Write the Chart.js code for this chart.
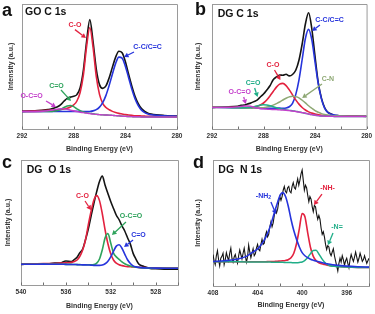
<!DOCTYPE html>
<html><head><meta charset="utf-8">
<script src="https://cdn.jsdelivr.net/npm/chart.js@4.4.1/dist/chart.umd.min.js"></script>
<style>
html,body{margin:0;padding:0;background:#fff;width:375px;height:314px;overflow:hidden}
.p{position:absolute}
</style></head><body>
<div class="p" style="left:0;top:0"><canvas id="ca" width="187" height="157"></canvas></div>
<div class="p" style="left:187px;top:0"><canvas id="cb" width="188" height="157"></canvas></div>
<div class="p" style="left:0;top:156px"><canvas id="cc" width="187" height="157"></canvas></div>
<div class="p" style="left:187px;top:156px"><canvas id="cd" width="188" height="158"></canvas></div>
<script>
// ---------- DATA (binding energy in eV, intensity as fraction of frame height) ----------
const eC1s = [292,291,290,289.75,289.5,289.25,289,288.75,288.5,288.25,288,287.75,287.5,287.25,287,286.75,286.5,286.25,286,285.75,285.5,285.25,285,284.75,284.5,284.25,284,283.75,283.5,283.25,283,282.75,282.5,282.25,282,281,280];
// panel a: GO C 1s
const goRaw   = [.141,.146,.156,.16,.168,.178,.195,.222,.245,.255,.262,.275,.33,.47,.70,.875,.70,.48,.355,.325,.345,.41,.495,.575,.622,.61,.54,.44,.345,.262,.203,.163,.14,.127,.12,.108,.103];
const goCO    = [.142,.145,.149,.150,.151,.153,.156,.160,.166,.176,.193,.224,.292,.431,.659,.812,.655,.421,.277,.205,.172,.154,.141,.132,.125,.120,.115,.112,.109,.106,.106,.104,.103,.102,.102,.100,.099];
const goCC    = [.140,.140,.141,.141,.141,.141,.141,.140,.140,.141,.141,.141,.140,.140,.139,.140,.145,.155,.175,.211,.269,.349,.440,.525,.575,.567,.503,.412,.319,.242,.187,.151,.131,.120,.114,.105,.102];
const goCdO   = [.138,.139,.140,.140,.143,.147,.157,.172,.184,.188,.179,.161,.147,.136,.129,.125,.122,.118,.115,.113,.112,.111,.109,.107,.105,.103,.101,.100,.099,.098,.098,.097,.097,.097,.097,.097,.097];
const goOCO   = [.139,.139,.146,.150,.155,.159,.162,.161,.157,.151,.146,.139,.134,.131,.127,.123,.12,.117,.115,.113,.112,.111,.109,.107,.105,.103,.101,.1,.099,.098,.098,.097,.097,.097,.097,.097,.097];
// panel b: DG C 1s
const dgcRaw  = [.172,.178,.181,.189,.191,.2,.207,.219,.231,.256,.28,.312,.346,.394,.416,.432,.43,.438,.425,.436,.47,.55,.68,.84,.93,.80,.58,.37,.245,.17,.133,.12,.108,.107,.103,.103,.101];
const dgcCC   = [.174,.173,.171,.170,.169,.168,.168,.166,.166,.165,.165,.165,.165,.166,.167,.167,.166,.168,.178,.205,.275,.391,.556,.724,.797,.713,.535,.362,.239,.165,.132,.118,.112,.108,.106,.103,.102];
const dgcCO   = [.175,.174,.173,.172,.172,.173,.174,.176,.181,.192,.208,.232,.264,.300,.335,.359,.365,.347,.313,.273,.233,.199,.172,.152,.137,.127,.119,.114,.110,.108,.106,.106,.104,.104,.104,.103,.102];
const dgcCN   = [.174,.173,.171,.170,.169,.169,.168,.167,.168,.169,.171,.176,.182,.191,.203,.216,.232,.246,.257,.263,.259,.249,.230,.209,.186,.166,.147,.134,.123,.116,.112,.109,.107,.106,.105,.103,.103];
const dgcCdO  = [.173,.172,.170,.169,.170,.171,.174,.178,.184,.190,.194,.192,.186,.178,.170,.162,.158,.153,.149,.146,.141,.137,.131,.126,.12,.115,.11,.107,.104,.103,.102,.102,.101,.101,.101,.101,.101];
const dgcOCO  = [.173,.172,.177,.181,.185,.185,.182,.174,.168,.164,.161,.159,.157,.156,.155,.153,.152,.150,.147,.144,.140,.136,.131,.126,.120,.115,.110,.107,.104,.103,.102,.102,.101,.101,.101,.101,.101];
// panel c: DG O 1s
const eO1s = [540,539,538,537,536.5,536,535.5,535.25,535,534.75,534.5,534.25,534,533.75,533.5,533.25,533,532.75,532.5,532.25,532,531.75,531.5,531.25,531,530.75,530.5,530.25,530,529.75,529.5,529,528.5,528,527,526];
const dgoRaw  = [.165,.17,.166,.175,.176,.192,.188,.203,.222,.258,.288,.362,.448,.552,.653,.747,.828,.872,.798,.732,.668,.612,.558,.522,.473,.432,.378,.327,.253,.207,.168,.147,.133,.131,.126,.127];
const dgoCO   = [.168,.169,.171,.172,.175,.177,.181,.188,.200,.23,.28,.36,.48,.59,.68,.715,.675,.57,.44,.33,.25,.20,.175,.162,.155,.15,.147,.146,.144,.143,.141,.139,.138,.137,.136,.135];
const dgoOCO  = [.166,.166,.167,.166,.166,.165,.165,.164,.163,.163,.162,.162,.162,.162,.164,.175,.208,.282,.377,.412,.336,.255,.225,.205,.185,.17,.16,.152,.146,.142,.14,.136,.135,.134,.134,.134];
const dgoCdO  = [.166,.166,.167,.166,.166,.165,.164,.164,.163,.162,.161,.161,.160,.159,.157,.157,.157,.160,.170,.190,.225,.270,.311,.322,.294,.247,.202,.172,.153,.145,.141,.137,.136,.135,.134,.134];
// panel d: DG N 1s
const eN1s = [408,407,406,405,404.5,404,403.75,403.5,403.25,403,402.75,402.5,402.25,402,401.75,401.5,401.25,401,400.75,400.5,400.25,400,399.75,399.5,399.25,399,398.75,398.5,398.25,398,397.75,397.5,397,396,395,394];
const dgnNH2  = [.195,.20,.21,.235,.265,.295,.32,.35,.39,.44,.505,.58,.65,.715,.741,.712,.635,.53,.44,.37,.31,.265,.24,.225,.213,.205,.198,.192,.186,.181,.176,.172,.166,.158,.153,.15];
const dgnNH   = [.193,.193,.192,.192,.192,.193,.193,.193,.193,.194,.194,.195,.196,.198,.200,.203,.209,.224,.260,.337,.456,.575,.55,.422,.306,.235,.201,.185,.176,.170,.165,.161,.157,.151,.148,.147];
const dgnN    = [.193,.193,.192,.191,.191,.191,.191,.190,.190,.190,.189,.189,.188,.188,.188,.187,.186,.186,.185,.185,.187,.191,.204,.226,.257,.282,.283,.254,.219,.190,.171,.161,.155,.150,.147,.146];
const eN1sRaw = [408,407.9,407.8,407.7,407.6,407.5,407.4,407.3,407.2,407.1,407,406.9,406.8,406.7,406.6,406.5,406.4,406.3,406.2,406.1,406,405.9,405.8,405.7,405.6,405.5,405.4,405.3,405.2,405.1,405,404.9,404.8,404.7,404.6,404.5,404.4,404.3,404.2,404.1,404,403.9,403.8,403.7,403.6,403.5,403.4,403.3,403.2,403.1,403,402.9,402.8,402.7,402.6,402.5,402.4,402.3,402.2,402.1,402,401.9,401.8,401.7,401.6,401.5,401.4,401.3,401.2,401.1,401,400.9,400.8,400.7,400.6,400.5,400.4,400.3,400.2,400.1,400,399.9,399.8,399.7,399.6,399.5,399.4,399.3,399.2,399.1,399,398.9,398.8,398.7,398.6,398.5,398.4,398.3,398.2,398.1,398,397.9,397.8,397.7,397.6,397.5,397.4,397.3,397.2,397.1,397,396.9,396.8,396.7,396.6,396.5,396.4,396.3,396.2,396.1,396,395.9,395.8,395.7,395.6,395.5,395.4,395.3,395.2,395.1,395,394.9,394.8,394.7,394.6,394.5,394.4,394.3,394.2,394.1,394];
const dgnRaw  = [.25,.20,.17,.24,.28,.21,.16,.22,.235,.26,.17,.21,.265,.23,.20,.26,.30,.22,.19,.23,.25,.21,.18,.24,.285,.25,.215,.26,.30,.24,.19,.23,.325,.27,.225,.26,.295,.24,.255,.30,.33,.29,.28,.33,.37,.33,.34,.40,.43,.39,.41,.47,.51,.47,.50,.56,.61,.58,.61,.67,.71,.68,.71,.76,.79,.75,.74,.78,.79,.75,.74,.79,.82,.78,.77,.81,.85,.80,.84,.89,.92,.84,.76,.80,.78,.72,.67,.71,.69,.63,.59,.64,.63,.57,.53,.56,.53,.46,.41,.43,.39,.33,.29,.32,.31,.26,.24,.27,.295,.24,.20,.16,.12,.18,.22,.19,.24,.21,.165,.20,.22,.18,.145,.21,.25,.22,.195,.23,.27,.23,.19,.22,.26,.23,.195,.21,.24,.21,.18,.2,.22];
// axis tick values are generated every 2 eV; labels every 4 eV
const xLabelStep = 4;

// ---------- STYLE ----------
const FF = '"Liberation Sans", Arial, Helvetica, sans-serif';
const C = {black:'#141414', red:'#e3223f', blue:'#2634dc', green:'#2ea35c', mag:'#c43fcb', teal:'#20ae88', olive:'#8ea874', frame:'#9a9a9a', text:'#333'};

function arrow(ctx, x1, y1, x2, y2, col){
  const a = Math.atan2(y2-y1, x2-x1), hl = 4.5, hw = 2.6;
  const bx = x2 - hl*Math.cos(a), by = y2 - hl*Math.sin(a);
  ctx.strokeStyle = col; ctx.fillStyle = col; ctx.lineWidth = 1.3;
  ctx.beginPath(); ctx.moveTo(x1,y1); ctx.lineTo(bx,by); ctx.stroke();
  ctx.beginPath(); ctx.moveTo(x2,y2);
  ctx.lineTo(bx + hw*Math.sin(a), by - hw*Math.cos(a));
  ctx.lineTo(bx - hw*Math.sin(a), by + hw*Math.cos(a));
  ctx.closePath(); ctx.fill();
}

const decoPlugin = {
  id: 'panelDeco',
  afterDraw(chart, args, o){
    const {ctx, chartArea: ca, scales: {x, y}} = chart;
    ctx.save();
    ctx.strokeStyle = C.frame; ctx.lineWidth = 1;
    ctx.beginPath(); ctx.moveTo(ca.left, ca.top + 0.5); ctx.lineTo(ca.right + 0.5, ca.top + 0.5); ctx.lineTo(ca.right + 0.5, ca.bottom); ctx.stroke();
    ctx.strokeStyle = '#6f6f6f';
    x.ticks.forEach(t => { const px = Math.round(x.getPixelForValue(t.value)) + 0.5; ctx.beginPath(); ctx.moveTo(px, ca.bottom); ctx.lineTo(px, ca.bottom - 2.5); ctx.stroke(); });
    ctx.fillStyle = '#111'; ctx.textAlign = 'left'; ctx.textBaseline = 'alphabetic';
    ctx.font = 'bold 18px ' + FF; ctx.fillText(o.letter, ca.left + o.ldx, ca.top + o.ldy);
    ctx.font = 'bold 10.5px ' + FF; ctx.fillText(o.title, ca.left + o.tdx, ca.top + o.tdy);
    o.notes.forEach(n => {
      const tx = x.getPixelForValue(n.at[0]), ty = y.getPixelForValue(n.at[1]);
      ctx.fillStyle = n.color; ctx.textBaseline = 'middle';
      ctx.font = 'bold 7px ' + FF;
      if (n.sub) {
        const w1 = ctx.measureText(n.text).width; ctx.font = 'bold 5px ' + FF; const w2 = ctx.measureText(n.sub).width;
        const sx = tx - (w1 + w2)/2; ctx.textAlign = 'left';
        ctx.font = 'bold 7px ' + FF; ctx.fillText(n.text, sx, ty);
        ctx.font = 'bold 5px ' + FF; ctx.fillText(n.sub, sx + w1, ty + 2);
      } else { ctx.textAlign = 'center'; ctx.fillText(n.text, tx, ty); }
      arrow(ctx, x.getPixelForValue(n.from[0]), y.getPixelForValue(n.from[1]), x.getPixelForValue(n.to[0]), y.getPixelForValue(n.to[1]), n.color);
    });
    ctx.restore();
  }
};

function line(e, v, color, w, tens){
  return {data: e.map((xv, i) => ({x: xv, y: v[i]})), borderColor: color, borderWidth: w, pointRadius: 0, fill: false, tension: tens, cubicInterpolationMode: tens ? 'monotone' : 'default'};
}

function panel(id, o){
  return new Chart(document.getElementById(id), {
    type: 'line',
    data: {datasets: o.datasets},
    options: {
      responsive: false, animation: false, devicePixelRatio: 1,
      layout: {padding: {left: 0, top: 4, right: o.padRight, bottom: 0}},
      plugins: {legend: {display: false}, tooltip: {enabled: false}, panelDeco: o.deco},
      scales: {
        x: {type: 'linear', reverse: true, min: o.xmin, max: o.xmax,
            ticks: {stepSize: 2, autoSkip: false, maxRotation: 0, padding: 3, color: C.text,
                    font: {family: FF, size: 6.5, weight: 'bold'},
                    callback: v => (v % xLabelStep === 0 ? String(v) : '')},
            grid: {display: false, drawTicks: false}, border: {display: true, color: C.frame},
            title: {display: true, text: 'Binding Energy (eV)', color: C.text, font: {family: FF, size: 7, weight: 'bold'}, padding: {top: 0, bottom: o.xtPad}},
            afterFit: s => { s.height = 28; }},
        y: {min: 0, max: 1, ticks: {display: false}, grid: {display: false, drawTicks: false}, border: {display: true, color: C.frame},
            title: {display: true, text: 'Intensity (a.u.)', color: C.text, font: {family: FF, size: 7, weight: 'bold'}, padding: {top: o.ytPad, bottom: 0}},
            afterFit: s => { s.width = o.yw; }}
      }
    },
    plugins: [decoPlugin]
  });
}

panel('ca', {xmin: 280, xmax: 292, yw: 22, padRight: 10, xtPad: 4, ytPad: 7,
  datasets: [line(eC1s, goOCO, C.mag, 1.5, 0.4), line(eC1s, goCdO, C.green, 1.5, 0.4), line(eC1s, goCC, C.blue, 1.6, 0.4), line(eC1s, goCO, C.red, 1.6, 0.4), line(eC1s, goRaw, C.black, 1.6, 0.4)],
  deco: {letter: 'a', ldx: -20, ldy: 12, title: 'GO C 1s', tdx: 3, tdy: 11,
    notes: [
      {text: 'C-O', color: C.red, at: [287.9, .832], from: [287.9, .795], to: [287.05, .728]},
      {text: 'C-C/C=C', color: C.blue, at: [282.28, .656], from: [283.33, .616], to: [284.1, .576]},
      {text: 'C=O', color: C.green, at: [289.33, .344], from: [288.98, .312], to: [288.21, .224]},
      {text: 'O-C=O', color: C.mag, at: [291.26, .264], from: [290.14, .224], to: [289.37, .176]}
    ]}});

panel('cb', {xmin: 280, xmax: 292, yw: 25, padRight: 7, xtPad: 3.5, ytPad: 7,
  datasets: [line(eC1s, dgcOCO, C.mag, 1.5, 0.4), line(eC1s, dgcCdO, C.teal, 1.5, 0.4), line(eC1s, dgcCN, C.olive, 1.5, 0.4), line(eC1s, dgcCO, C.red, 1.6, 0.4), line(eC1s, dgcCC, C.blue, 1.6, 0.4), line(eC1s, dgcRaw, C.black, 1.6, 0.3)],
  deco: {letter: 'b', ldx: -17, ldy: 11, title: 'DG C 1s', tdx: 5.7, tdy: 12.7,
    notes: [
      {text: 'C-C/C=C', color: C.blue, at: [282.88, .872], from: [283.62, .832], to: [284.23, .784]},
      {text: 'C-O', color: C.red, at: [287.27, .512], from: [287.15, .472], to: [286.69, .392]},
      {text: 'C=O', color: C.teal, at: [288.81, .368], from: [288.69, .328], to: [288.46, .256]},
      {text: 'O-C=O', color: C.mag, at: [289.85, .296], from: [289.54, .256], to: [289.38, .2]},
      {text: 'C-N', color: C.olive, at: [283.0, .4], from: [283.46, .36], to: [285.0, .248]}
    ]}});

panel('cc', {xmin: 526, xmax: 540, yw: 21, padRight: 9, xtPad: 2.7, ytPad: 4,
  datasets: [line(eO1s, dgoCdO, C.blue, 1.6, 0.4), line(eO1s, dgoOCO, C.green, 1.6, 0.4), line(eO1s, dgoCO, C.red, 1.6, 0.4), line(eO1s, dgoRaw, C.black, 1.6, 0.3)],
  deco: {letter: 'c', ldx: -19, ldy: 8.3, title: 'DG  O 1s', tdx: 5.7, tdy: 13.3,
    notes: [
      {text: 'C-O', color: C.red, at: [534.52, .712], from: [534.29, .672], to: [533.76, .6]},
      {text: 'O-C=O', color: C.green, at: [530.19, .552], from: [530.64, .504], to: [531.89, .4]},
      {text: 'C=O', color: C.blue, at: [529.52, .4], from: [530.01, .36], to: [530.81, .304]}
    ]}});

panel('cd', {xmin: 394, xmax: 408, yw: 26, padRight: 6, xtPad: 4.7, ytPad: 7,
  datasets: [line(eN1s, dgnNH2, C.blue, 1.6, 0.4), line(eN1s, dgnN, C.teal, 1.5, 0.4), line(eN1s, dgnNH, C.red, 1.6, 0.4), line(eN1sRaw, dgnRaw, C.black, 1.1, 0)],
  deco: {letter: 'd', ldx: -20, ldy: 8.3, title: 'DG  N 1s', tdx: 5.3, tdy: 13.3,
    notes: [
      {text: '-NH', sub: '2', color: C.blue, at: [403.47, .714], from: [402.8, .667], to: [402.35, .571]},
      {text: '-NH-', color: C.red, at: [397.72, .778], from: [398.22, .73], to: [398.94, .643]},
      {text: '-N=', color: C.teal, at: [396.87, .468], from: [397.23, .421], to: [397.68, .325]}
    ]}});
</script>
</body></html>
